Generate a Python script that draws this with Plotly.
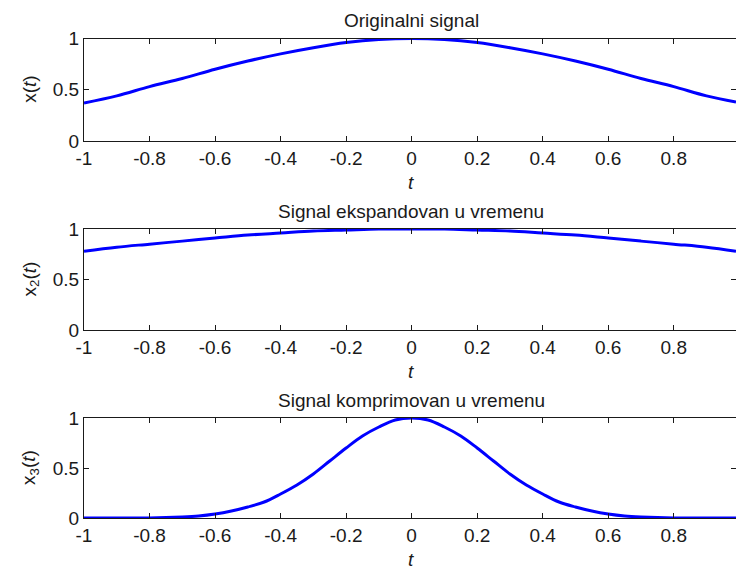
import plotly.graph_objects as go

# time samples
t_main = [-1.0, -0.9, -0.8, -0.7, -0.6, -0.5, -0.4, -0.3, -0.2, -0.1, 0.0,
          0.1, 0.2, 0.3, 0.4, 0.5, 0.6, 0.7, 0.8, 0.9, 0.99]
x_orig = [0.37, 0.44, 0.53, 0.61, 0.70, 0.78, 0.85, 0.91, 0.96, 0.99, 1.00,
          0.99, 0.96, 0.91, 0.85, 0.78, 0.70, 0.61, 0.53, 0.44, 0.38]
x_exp = [0.78, 0.82, 0.85, 0.88, 0.91, 0.94, 0.96, 0.98, 0.99, 1.00, 1.00,
         1.00, 0.99, 0.98, 0.96, 0.94, 0.91, 0.88, 0.85, 0.82, 0.78]

t_comp = [-1.0, -0.9, -0.8, -0.7, -0.65, -0.6, -0.55, -0.5, -0.45, -0.4, -0.35,
          -0.3, -0.25, -0.2, -0.15, -0.1, -0.05, 0.0, 0.05, 0.1, 0.15, 0.2,
          0.25, 0.3, 0.35, 0.4, 0.45, 0.5, 0.55, 0.6, 0.65, 0.7, 0.8, 0.9, 0.99]
x_comp = [0.0, 0.0, 0.0, 0.01, 0.02, 0.04, 0.07, 0.11, 0.16, 0.24, 0.33,
          0.44, 0.57, 0.70, 0.82, 0.91, 0.98, 1.00, 0.98, 0.91, 0.82, 0.70,
          0.57, 0.44, 0.33, 0.24, 0.16, 0.11, 0.07, 0.04, 0.02, 0.01, 0.0, 0.0, 0.0]

titles = ["Originalni signal", "Signal ekspandovan u vremenu", "Signal komprimovan u vremenu"]
ylabels = ["x(<i>t</i>)", "x<sub>2</sub>(<i>t</i>)", "x<sub>3</sub>(<i>t</i>)"]
xticks = [-1, -0.8, -0.6, -0.4, -0.2, 0, 0.2, 0.4, 0.6, 0.8]
xticklabels = ["-1", "-0.8", "-0.6", "-0.4", "-0.2", "0", "0.2", "0.4", "0.6", "0.8"]
yticks = [0, 0.5, 1]
yticklabels = ["0", "0.5", "1"]

W, H = 736, 569
FONT = "Liberation Sans, Arial, sans-serif"
TXT = "#1a1a1a"
FS = 19

# pixel geometry of the three axes (top, bottom of plot areas)
boxes = [(38.5, 141), (229, 330), (418, 518)]

def py(p):
    return 1 - p / H

fig = go.Figure()
series = [(t_main, x_orig), (t_main, x_exp), (t_comp, x_comp)]
annotations = []
for i, ((tx, yv), (top, bot)) in enumerate(zip(series, boxes)):
    n = "" if i == 0 else str(i + 1)
    fig.add_trace(go.Scatter(x=tx, y=yv, mode="lines",
                             line=dict(color="#0000ff", width=3, shape="spline", smoothing=1.0),
                             xaxis="x" + n, yaxis="y" + n, showlegend=False,
                             cliponaxis=True))
    common = dict(showline=True, linecolor="#1a1a1a", linewidth=1, ticks="inside",
                  ticklen=5, tickcolor="#1a1a1a", showgrid=False, zeroline=False,
                  tickfont=dict(family=FONT, size=FS, color=TXT), automargin=False)
    fig.update_layout(**{
        "xaxis" + n: dict(domain=[0, 1], range=[-1, 0.99], anchor="y" + n,
                          tickvals=xticks, ticktext=xticklabels, mirror="ticks", **common),
        "yaxis" + n: dict(domain=[py(bot), py(top)], range=[0, 1], anchor="x" + n,
                          tickvals=yticks, ticktext=yticklabels, mirror="ticks", **common),
    })
    annotations.append(dict(text=titles[i], x=411, xref="paper", y=py(top - 18),
                            yref="paper", showarrow=False, xanchor="center",
                            yanchor="middle", font=dict(family=FONT, size=FS, color=TXT)))
    annotations.append(dict(text="<i>t</i>", x=411, y=py(bot + 41), xref="paper",
                            yref="paper", showarrow=False, xanchor="center",
                            yanchor="middle", font=dict(family=FONT, size=FS, color=TXT)))
    annotations.append(dict(text=ylabels[i], x=30, y=py((top + bot) / 2), xref="paper",
                            yref="paper", showarrow=False, textangle=-90, xanchor="center",
                            yanchor="middle", font=dict(family=FONT, size=FS, color=TXT)))

# convert pixel x positions of annotations to paper coordinates
L = 84
pw = W - L
for a in annotations:
    a["x"] = (a["x"] - L) / pw

fig.update_layout(width=W, height=H, margin=dict(l=L, r=0, t=0, b=0),
                  paper_bgcolor="white", plot_bgcolor="white",
                  annotations=annotations)
fig.write_html("out.html", config={"displayModeBar": False},
               post_script="document.body.style.margin='0';document.body.style.overflow='hidden';")
